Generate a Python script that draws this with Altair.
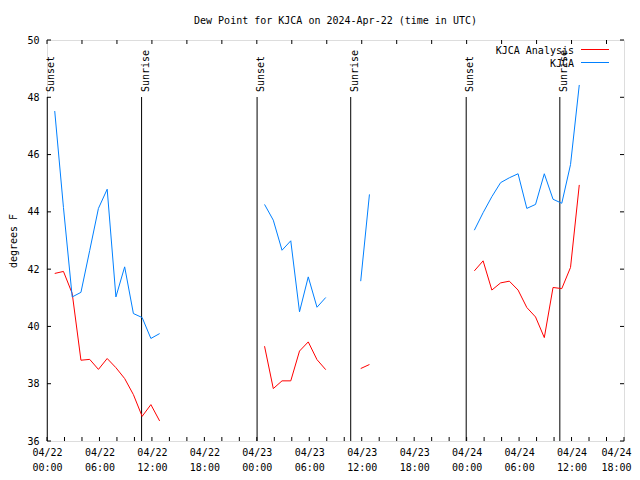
import altair as alt
import pandas as pd

TITLE = "Dew Point for KJCA on 2024-Apr-22 (time in UTC)"
Y_TITLE = "degrees F"
SERIES = ["KJCA Analysis", "KJCA"]
COLORS = ["#ff0000", "#0080ff"]
FONT = "DejaVu Sans Mono"
OBS_MIN = 53  # observations at hh:53 UTC

# hours (UTC, from 04/22 00:00) of each continuous run of observations
seg_hours = [
    list(range(0, 13)),
    list(range(24, 32)),
    [35, 36],
    list(range(48, 61)),
]
kjca = [
    [47.52, 44.15, 41.03, 41.19, 42.65, 44.12, 44.79, 41.03, 42.08, 40.45, 40.31, 39.58, 39.75],
    [44.26, 43.71, 42.66, 42.99, 40.51, 41.73, 40.67, 41.01],
    [41.58, 44.61],
    [43.36, 43.97, 44.53, 45.02, 45.19, 45.33, 44.12, 44.26, 45.33, 44.44, 44.30, 45.65, 48.43],
]
analysis = [
    [41.85, 41.92, 41.15, 38.82, 38.85, 38.50, 38.88, 38.56, 38.18, 37.62, 36.86, 37.27, 36.70],
    [39.31, 37.83, 38.10, 38.10, 39.14, 39.46, 38.84, 38.49],
    [38.53, 38.67],
    [41.94, 42.29, 41.27, 41.52, 41.58, 41.27, 40.66, 40.33, 39.61, 41.36, 41.32, 42.06, 44.94],
]
sun_hours = [0.03, 10.82, 24.03, 34.74, 47.95, 58.66]
sun_labels = ["Sunset", "Sunrise", "Sunset", "Sunrise", "Sunset", "Sunrise"]

x_tick_values = list(range(0, 67, 6))
x_tick_dates = ["04/22"] * 4 + ["04/23"] * 4 + ["04/24"] * 4
x_tick_times = ["00:00", "06:00", "12:00", "18:00"] * 3
x_ticks_bottom = list(range(0, 67, 2))
x_ticks_top = list(range(0, 67, 4))
y_ticks = list(range(36, 51, 2))

W, H = 577, 401

rows = []
for si, (name, vals) in enumerate(zip(SERIES, [analysis, kjca])):
    for gi, (hrs, seg) in enumerate(zip(seg_hours, vals)):
        for h, v in zip(hrs, seg):
            rows.append({"t": h + OBS_MIN / 60, "value": v, "series": name, "seg": gi})
df = pd.DataFrame(rows)

xscale = alt.Scale(domain=[0, 66], nice=False, zero=False)
yscale = alt.Scale(domain=[36, 50], nice=False, zero=False)

labels_js = "[" + ",".join(f"['{d}','{t}']" for d, t in zip(x_tick_dates, x_tick_times)) + "]"
values_js = "[" + ",".join(str(v) for v in x_tick_values) + "]"
label_expr = f"{labels_js}[indexof({values_js}, datum.value)]"
last_tick = f"datum.value == {x_tick_values[-1]}"

xaxis = alt.Axis(values=x_tick_values, labelExpr=label_expr, tickSize=0,
                 domain=False, grid=False, title=None, labelPadding=6,
                 labelLineHeight=15, labelBaseline="top", labelFlush=False,
                 labelOverlap=False, labelFont=FONT, labelFontSize=10,
                 labelFontWeight="normal", labelColor="black",
                 labelAlign={"condition": {"test": last_tick, "value": "right"},
                             "value": "center"},
                 labelOffset={"condition": {"test": last_tick, "value": 7},
                              "value": 0})
yaxis = alt.Axis(values=y_ticks, tickSize=0, domain=False, grid=False,
                 title=Y_TITLE, labelPadding=8, titleX=-34, titleY=H / 2,
                 titleAngle=270, titleAlign="center", titleBaseline="middle",
                 titleFont=FONT, titleFontSize=10, titleFontWeight="normal",
                 titleColor="black", labelFont=FONT, labelFontSize=10,
                 labelColor="black", labelFlush=False)


def X(field):
    return alt.X(field, scale=xscale, axis=xaxis)


def Y(field):
    return alt.Y(field, scale=yscale, axis=yaxis)


lines = alt.Chart(df).mark_line(strokeWidth=1).encode(
    x=X("t:Q"), y=Y("value:Q"),
    color=alt.Color("series:N", scale=alt.Scale(domain=SERIES, range=COLORS), legend=None),
    detail="seg:N",
)

sun_df = pd.DataFrame({"t": sun_hours, "label": sun_labels})
sun_rules = alt.Chart(sun_df).mark_rule(color="black", strokeWidth=1).encode(
    x=X("t:Q"), y=alt.value(57), y2=alt.value(H)
)
sun_text = alt.Chart(sun_df).mark_text(
    angle=270, align="left", baseline="alphabetic", font=FONT, fontSize=10,
    color="black", xOffset=7
).encode(x=X("t:Q"), y=alt.value(52), text="label:N")

tb = alt.Chart(pd.DataFrame({"t": x_ticks_bottom})).mark_rule(color="black").encode(
    x=X("t:Q"), y=alt.value(H), y2=alt.value(H - 4))
tt = alt.Chart(pd.DataFrame({"t": x_ticks_top})).mark_rule(color="black").encode(
    x=X("t:Q"), y=alt.value(0), y2=alt.value(4))
tl = alt.Chart(pd.DataFrame({"v": y_ticks})).mark_rule(color="black").encode(
    y=Y("v:Q"), x=alt.value(0), x2=alt.value(4))
tr = alt.Chart(pd.DataFrame({"v": y_ticks})).mark_rule(color="black").encode(
    y=Y("v:Q"), x=alt.value(W), x2=alt.value(W - 4))

leg_df = pd.DataFrame({"series": SERIES})
leg_layers = []
for i, name in enumerate(SERIES):
    d = leg_df[leg_df.series == name]
    leg_layers.append(alt.Chart(d).mark_text(align="right", baseline="middle", font=FONT,
                                             fontSize=10, color="black").encode(
        x=alt.value(527), y=alt.value(10.5 + 13 * i), text="series:N"))
    leg_layers.append(alt.Chart(d).mark_rule(color=COLORS[i], strokeWidth=1).encode(
        x=alt.value(534), x2=alt.value(562), y=alt.value(9.5 + 13 * i)))

chart = alt.layer(tb, tt, tl, tr, sun_rules, sun_text, lines, *leg_layers).properties(
    width=W, height=H,
    title=alt.TitleParams(TITLE, font=FONT, fontSize=10, fontWeight="normal",
                          anchor="middle", offset=9, color="black"),
    autosize=alt.AutoSizeParams(type="none"),
    padding={"left": 39, "top": 32, "right": 8, "bottom": 31},
).configure_view(stroke="black", strokeWidth=1).configure(background="white")

chart.save("out.html", embed_options={"renderer": "svg", "actions": False})
